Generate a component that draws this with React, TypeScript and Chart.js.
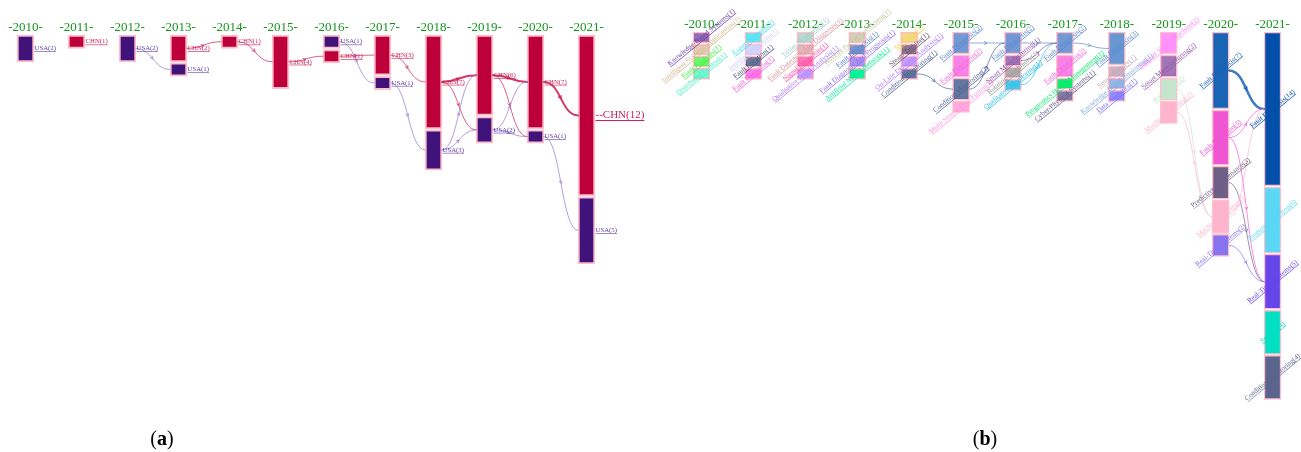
import React, { useEffect, useRef } from 'react';
import { Chart, registerables } from 'chart.js';

Chart.register(...registerables);

const years = ['2010', '2011', '2012', '2013', '2014', '2015', '2016', '2017', '2018', '2019', '2020', '2021'];

// ---------- Panel (a): countries ----------
const aNodeYear = [0, 1, 2, 3, 3, 4, 5, 6, 6, 7, 7, 8, 8, 9, 9, 10, 10, 11, 11];
const aNodeName = ['USA', 'CHN', 'USA', 'CHN', 'USA', 'CHN', 'CHN', 'USA', 'CHN', 'CHN', 'USA', 'CHN', 'USA', 'CHN', 'USA', 'CHN', 'USA', 'CHN', 'USA'];
const aNodeValue = [2, 1, 2, 2, 1, 1, 4, 1, 1, 3, 1, 7, 3, 6, 2, 7, 1, 12, 5];
const aLinkFrom = [2, 3, 5, 6, 8, 7, 9, 10, 11, 11, 12, 12, 13, 13, 14, 14, 15, 16];
const aLinkTo = [4, 5, 6, 8, 9, 10, 11, 12, 13, 14, 13, 14, 15, 16, 15, 16, 17, 18];
const aLinkValue = [1, 1, 1, 1, 1, 1, 1, 1, 4, 1, 1, 1, 4, 1, 1, 1, 4, 1];

// ---------- Panel (b): keywords ----------
const bNodeYear = [
  0, 0, 0, 0,
  1, 1, 1, 1,
  2, 2, 2, 2,
  3, 3, 3, 3,
  4, 4, 4, 4,
  5, 5, 5, 5,
  6, 6, 6, 6,
  7, 7, 7, 7,
  8, 8, 8, 8,
  9, 9, 9, 9,
  10, 10, 10, 10, 10,
  11, 11, 11, 11, 11,
];
const bNodeName = [
  'Knowledge-Based Systems', 'Intelligent Systems Applications', 'Fault Analysis', 'Distributed Control',
  'Expert Systems', 'Intelligent Systems', 'Fault Location', 'Fault Detection',
  'Tablet Monitoring', 'Fault Detection And Diagnosis', 'Signal Diagnosis', 'Qualitative Trend Analysis',
  'Wavelet Packet Coefficient', 'Fault Diagnosis', 'Fault Diagnosis And Prognosis', 'Artificial Neural Network',
  'Modeling', 'Steam Turbine', 'On-Line Dynamic Analysis', 'Condition Monitoring',
  'Fault Diagnosis', 'Fault Detection', 'Condition Monitoring', 'Multi-Sensor Data Fusion',
  'Fault Diagnosis', 'Smart Manufacturing', 'Rotating Machinery', 'Qualitative Monitoring',
  'Fault Diagnosis', 'Fault Detection', 'Prognostics Health Management', 'Cyber-Physical Systems',
  'Fault Diagnosis', 'Smart Factory', 'Knowledge-Based Reasoning', 'Data Analytics',
  'Support Vector Machine', 'Smart Manufacturing', 'Reliability', 'Machine Learning',
  'Fault Diagnosis', 'Fault Detection', 'Predictive Maintenance', 'Machine Learning', 'Real-Time Systems',
  'Fault Diagnosis', 'Feature Extraction', 'Real-Time Systems', 'Sensors', 'Condition Monitoring',
];
const bNodeValue = [
  1, 1, 1, 1,
  1, 1, 1, 1,
  1, 1, 1, 1,
  1, 1, 1, 1,
  1, 1, 1, 1,
  2, 2, 2, 1,
  2, 1, 1, 1,
  2, 2, 1, 1,
  3, 1, 1, 1,
  2, 2, 2, 2,
  7, 5, 3, 3, 2,
  14, 6, 5, 4, 4,
];
const bLinkFrom = [19, 20, 22, 24, 27, 25, 28, 38, 39, 40, 41, 41, 42, 43, 44];
const bLinkTo = [22, 24, 24, 28, 28, 28, 32, 43, 43, 45, 45, 47, 47, 45, 47];
const bLinkValue = [1, 1, 1, 1, 1, 1, 1, 1, 1, 5, 1, 1, 1, 1, 1];

// styles (kept apart from the data)
const countryRgb: Record<string, string> = { USA: '64,19,122', CHN: '190,0,58' };
const countryLabelRgb: Record<string, string> = { USA: '95,65,165', CHN: '205,30,85' };
const countryLinkRgb: Record<string, string> = { USA: '150,120,205', CHN: '205,35,85' };
const bNodeRgb = [
  '110,60,160', '215,185,145', '60,245,60', '70,245,190',
  '70,225,240', '205,205,255', '70,85,125', '250,90,230',
  '160,205,195', '220,150,160', '255,70,160', '175,120,255',
  '195,195,155', '90,130,200', '140,110,240', '0,240,150',
  '240,210,90', '100,75,105', '175,120,255', '75,95,145',
  '90,135,205', '245,100,225', '75,95,145', '255,150,220',
  '90,135,205', '140,85,165', '150,150,150', '40,190,230',
  '90,135,205', '245,100,225', '0,235,100', '100,90,140',
  '90,140,205', '195,165,185', '130,170,225', '120,110,255',
  '255,130,250', '140,85,165', '195,230,205', '255,180,205',
  '25,100,180', '240,85,210', '110,95,135', '255,180,205', '135,115,240',
  '0,80,170', '90,215,245', '100,70,235', '0,225,195', '90,100,140',
];
const bNodeAlpha = [
  0.75, 0.7, 0.75, 0.75,
  0.85, 0.85, 0.8, 0.8,
  0.75, 0.7, 0.75, 0.7,
  0.75, 0.85, 0.75, 0.95,
  0.75, 0.75, 0.7, 0.85,
  0.85, 0.8, 0.85, 0.8,
  0.85, 0.8, 0.75, 0.85,
  0.85, 0.8, 0.95, 0.8,
  0.9, 0.85, 0.85, 0.8,
  0.85, 0.8, 1, 1,
  1, 1, 1, 1, 1,
  1, 1, 1, 1, 1,
];

type PanelCfg = {
  nodeYear: number[];
  nodeName: string[];
  nodeValue: number[];
  fill: string[];
  labelColor: string[];
  linkColor: string[];
  linkFrom: number[];
  linkTo: number[];
  linkValue: number[];
  gap: number;
  yMax: number;
  topPx: number;
  padding: { left: number; right: number; bottom: number };
  barW: number;
  borderW: number;
  rotated: boolean;
  fontSize: number;
  linkScale: number;
};

function arrowAt(ctx: CanvasRenderingContext2D, px: number, py: number, dx: number, dy: number) {
  const len = Math.hypot(dx, dy) || 1;
  const ux = dx / len, uy = dy / len;
  const s = 3;
  const a = 0.5;
  const bx1 = px - s * (ux * Math.cos(a) - uy * Math.sin(a));
  const by1 = py - s * (uy * Math.cos(a) + ux * Math.sin(a));
  const bx2 = px - s * (ux * Math.cos(-a) - uy * Math.sin(-a));
  const by2 = py - s * (uy * Math.cos(-a) + ux * Math.sin(-a));
  ctx.beginPath();
  ctx.moveTo(bx1, by1);
  ctx.lineTo(px, py);
  ctx.lineTo(bx2, by2);
  ctx.stroke();
}

function makeChart(canvas: HTMLCanvasElement, cfg: PanelCfg) {
  const starts: number[] = [];
  const acc: Record<number, number> = {};
  cfg.nodeYear.forEach((yr, i) => {
    const s = acc[yr] ?? 0;
    starts[i] = s;
    acc[yr] = s + cfg.nodeValue[i] + cfg.gap;
  });

  const datasets = cfg.nodeYear.map((yr, i) => ({
    label: cfg.nodeName[i],
    data: years.map((_, k) => (k === yr ? [starts[i], starts[i] + cfg.nodeValue[i]] : null)),
    backgroundColor: cfg.fill[i],
    borderColor: 'rgb(255,190,205)',
    borderWidth: cfg.borderW,
    borderSkipped: false,
    barThickness: cfg.barW,
    grouped: false,
  }));

  const flowPlugin = {
    id: 'flowLinks',
    afterDatasetsDraw(chart: any) {
      const { ctx, scales } = chart;
      const xs = scales.x;
      const ys = scales.y;
      const half = cfg.barW / 2;
      const mid = (i: number) => ys.getPixelForValue(starts[i] + cfg.nodeValue[i] / 2);
      ctx.save();
      ctx.lineCap = 'round';
      cfg.linkFrom.forEach((f, j) => {
        const t = cfg.linkTo[j];
        const x1 = xs.getPixelForValue(cfg.nodeYear[f]) + half;
        const x2 = xs.getPixelForValue(cfg.nodeYear[t]) - half;
        const y1 = mid(f);
        const y2 = mid(t);
        const xm = (x1 + x2) / 2;
        ctx.strokeStyle = cfg.linkColor[f];
        ctx.lineWidth = Math.max(0.8, cfg.linkValue[j] * cfg.linkScale);
        ctx.beginPath();
        ctx.moveTo(x1, y1);
        ctx.bezierCurveTo(xm, y1, xm, y2, x2, y2);
        ctx.stroke();
        ctx.lineWidth = Math.max(0.8, cfg.linkValue[j] * cfg.linkScale * 0.6);
        arrowAt(ctx, xm, (y1 + y2) / 2, 0.25 * (x2 - x1), 0.5 * (y2 - y1));
      });
      // labels
      cfg.nodeYear.forEach((yr, i) => {
        const cx = xs.getPixelForValue(yr);
        const cy = mid(i);
        const big = !cfg.rotated && cfg.nodeValue[i] >= 10;
        const fs = big ? 11 : cfg.fontSize;
        const txt = (big ? '--' : '') + `${cfg.nodeName[i]}(${cfg.nodeValue[i]})`;
        ctx.font = `${fs}px "Liberation Serif", serif`;
        ctx.fillStyle = cfg.labelColor[i];
        ctx.textBaseline = 'middle';
        const w = ctx.measureText(txt).width;
        if (cfg.rotated) {
          ctx.save();
          ctx.translate(cx, cy);
          ctx.rotate(-0.69);
          ctx.textAlign = 'center';
          ctx.fillText(txt, 0, 0);
          ctx.fillRect(-w / 2, fs * 0.42, w, 0.6);
          ctx.restore();
        } else {
          ctx.textAlign = 'left';
          const tx = cx + half + 0.5;
          ctx.fillText(txt, tx, cy);
          ctx.fillRect(tx, cy + fs * 0.42, w, big ? 1 : 0.6);
        }
      });
      ctx.restore();
    },
  };

  return new Chart(canvas, {
    type: 'bar',
    data: { labels: years, datasets: datasets as any },
    options: {
      animation: false,
      responsive: false,
      maintainAspectRatio: false,
      events: [],
      layout: { padding: { left: cfg.padding.left, right: cfg.padding.right, top: 0, bottom: cfg.padding.bottom } },
      plugins: { legend: { display: false }, tooltip: { enabled: false } },
      scales: {
        x: {
          type: 'category',
          position: 'top',
          offset: true,
          grid: { display: false, drawTicks: false },
          border: { display: false },
          ticks: {
            color: 'rgb(20,150,30)',
            font: { family: '"Liberation Serif", serif', size: 13 },
            padding: 0,
            autoSkip: false,
            maxRotation: 0,
            callback: (_v: any, i: number) => `-${years[i]}-`,
          },
          afterFit: (scale: any) => {
            scale.height = cfg.topPx;
          },
        },
        y: { type: 'linear', reverse: true, min: 0, max: cfg.yMax, display: false },
      },
    } as any,
    plugins: [flowPlugin],
  });
}

const cfgA: PanelCfg = {
  nodeYear: aNodeYear,
  nodeName: aNodeName,
  nodeValue: aNodeValue,
  fill: aNodeName.map((n) => `rgb(${countryRgb[n]})`),
  labelColor: aNodeName.map((n) => `rgb(${countryLabelRgb[n]})`),
  linkColor: aNodeName.map((n) => `rgba(${countryLinkRgb[n]},0.9)`),
  linkFrom: aLinkFrom,
  linkTo: aLinkTo,
  linkValue: aLinkValue,
  gap: 0.08,
  yMax: 30,
  topPx: 35,
  padding: { left: 0, right: 38, bottom: 15 },
  barW: 17,
  borderW: 2,
  rotated: false,
  fontSize: 6.8,
  linkScale: 0.5,
};

const cfgB: PanelCfg = {
  nodeYear: bNodeYear,
  nodeName: bNodeName,
  nodeValue: bNodeValue,
  fill: bNodeRgb.map((c, i) => `rgba(${c},${bNodeAlpha[i]})`),
  labelColor: bNodeRgb.map((c) => `rgb(${c})`),
  linkColor: bNodeRgb.map((c) => `rgba(${c},0.85)`),
  linkFrom: bLinkFrom,
  linkTo: bLinkTo,
  linkValue: bLinkValue,
  gap: 0.1,
  yMax: 37.5,
  topPx: 32,
  padding: { left: 25.5, right: 2.5, bottom: 7.5 },
  barW: 17,
  borderW: 1.5,
  rotated: true,
  fontSize: 7,
  linkScale: 0.5,
};

function Panel({ cfg, left, width }: { cfg: PanelCfg; left: number; width: number }) {
  const ref = useRef<HTMLCanvasElement>(null);
  useEffect(() => {
    const chart = makeChart(ref.current as HTMLCanvasElement, cfg);
    return () => chart.destroy();
  }, [cfg]);
  return (
    <canvas
      ref={ref}
      width={width}
      height={452}
      style={{ position: 'absolute', left, top: 0, width, height: 452, display: 'block' }}
    />
  );
}

const captionStyle: React.CSSProperties = {
  position: 'absolute',
  top: 438,
  transform: 'translate(-50%, -50%)',
  fontFamily: '"Liberation Serif", serif',
  fontSize: 20,
  color: '#000',
  lineHeight: 1,
};

export default function App() {
  return (
    <div style={{ position: 'absolute', left: 0, top: 0, width: 1301, height: 452, background: '#fff', overflow: 'hidden' }}>
      <Panel cfg={cfgA} left={0} width={650} />
      <Panel cfg={cfgB} left={650} width={651} />
      <div style={{ ...captionStyle, left: 162 }}>
        (<b>a</b>)
      </div>
      <div style={{ ...captionStyle, left: 985 }}>
        (<b>b</b>)
      </div>
    </div>
  );
}
